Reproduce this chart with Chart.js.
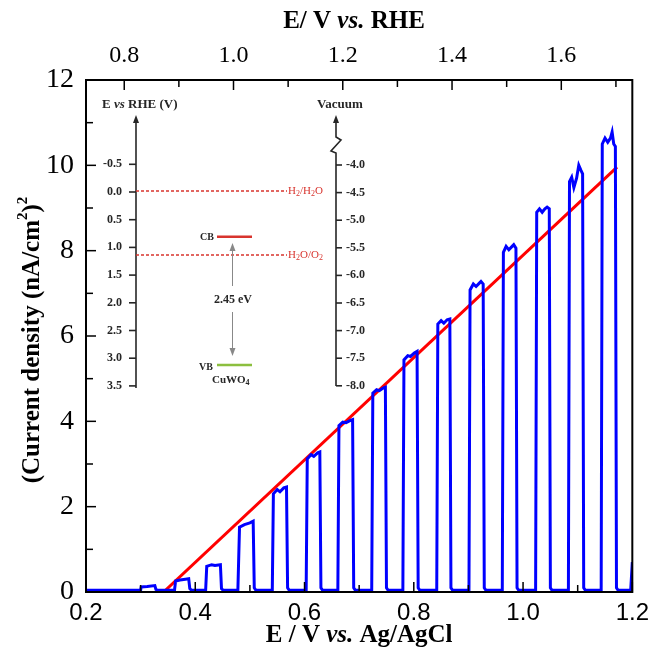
<!DOCTYPE html>
<html>
<head>
<meta charset="utf-8">
<script src="https://cdn.jsdelivr.net/npm/chart.js@4.4.0/dist/chart.umd.min.js"></script>
<style>
  html, body { margin: 0; padding: 0; background: #fff; }
  #chart { display: block; }
</style>
</head>
<body>
<canvas id="chart" width="656" height="659"></canvas>
<script>
"use strict";
// chopped-light photocurrent (squared)
const blueX = [
    0.200, 0.300,
    0.301, 0.312, 0.326, 0.328, 0.331,
    0.362, 0.364, 0.372, 0.382, 0.388, 0.390, 0.393,
    0.419, 0.421, 0.430, 0.436, 0.446, 0.448, 0.451,
    0.478, 0.481, 0.490, 0.500, 0.506, 0.508, 0.511,
    0.541, 0.543, 0.550, 0.555, 0.562, 0.567, 0.569, 0.572,
    0.603, 0.605, 0.612, 0.617, 0.624, 0.628, 0.630, 0.633,
    0.661, 0.663, 0.670, 0.676, 0.684, 0.688, 0.690, 0.693,
    0.723, 0.725, 0.732, 0.737, 0.744, 0.748, 0.750, 0.753,
    0.780, 0.782, 0.789, 0.794, 0.801, 0.806, 0.808, 0.811,
    0.842, 0.844, 0.850, 0.855, 0.861, 0.866, 0.868, 0.871,
    0.901, 0.903, 0.909, 0.914, 0.920, 0.923, 0.927, 0.929, 0.932,
    0.962, 0.964, 0.969, 0.974, 0.980, 0.983, 0.987, 0.989, 0.992,
    1.023, 1.025, 1.030, 1.035, 1.040, 1.044, 1.048, 1.050, 1.053,
    1.083, 1.085, 1.089, 1.093, 1.098, 1.102, 1.106, 1.109, 1.111, 1.114,
    1.143, 1.145, 1.150, 1.155, 1.160, 1.163, 1.166, 1.169, 1.171, 1.174,
    1.197, 1.200
];
const blueY = [
    0.04, 0.04,
    0.12, 0.13, 0.15, 0.06, 0.04,
    0.04, 0.26, 0.28, 0.30, 0.31, 0.08, 0.04,
    0.04, 0.60, 0.64, 0.62, 0.64, 0.08, 0.04,
    0.04, 1.52, 1.58, 1.62, 1.66, 0.10, 0.04,
    0.04, 2.30, 2.40, 2.35, 2.44, 2.46, 0.10, 0.04,
    0.04, 3.12, 3.22, 3.18, 3.26, 3.28, 0.10, 0.04,
    0.04, 3.90, 3.98, 3.97, 4.02, 4.04, 0.10, 0.04,
    0.04, 4.66, 4.74, 4.72, 4.78, 4.80, 0.10, 0.04,
    0.04, 5.44, 5.54, 5.52, 5.60, 5.64, 0.10, 0.04,
    0.04, 6.28, 6.36, 6.30, 6.38, 6.40, 0.10, 0.04,
    0.04, 7.08, 7.22, 7.16, 7.24, 7.28, 7.22, 0.10, 0.04,
    0.04, 7.96, 8.10, 8.02, 8.10, 8.14, 8.06, 0.10, 0.04,
    0.04, 8.90, 8.98, 8.90, 8.98, 9.02, 8.98, 0.10, 0.04,
    0.04, 9.62, 9.72, 9.48, 9.70, 10.00, 9.88, 9.80, 0.10, 0.04,
    0.04, 10.50, 10.64, 10.54, 10.64, 10.78, 10.50, 10.44, 0.10, 0.04,
    0.04, 0.70
];
// linear fit (red)
const fitX = [0.342, 1.172];
const fitY = [0.0, 9.96];

// axis ticks
const bottomTicks = [0.2, 0.4, 0.6, 0.8, 1.0, 1.2];
const bottomMinor = [0.3, 0.5, 0.7, 0.9, 1.1];
const leftTicks = [0, 2, 4, 6, 8, 10, 12];
const leftMinor = [1, 3, 5, 7, 9, 11];
const topTicks = [0.8, 1.0, 1.2, 1.4, 1.6];
const topMinor = [0.9, 1.1, 1.3, 1.5, 1.7];

// inset band diagram labels
const rheLabels = ["-0.5", "0.0", "0.5", "1.0", "1.5", "2.0", "2.5", "3.0", "3.5"];
const vacLabels = ["-4.0", "-4.5", "-5.0", "-5.5", "-6.0", "-6.5", "-7.0", "-7.5", "-8.0"];

const SERIF = '"Liberation Serif", "Times New Roman", serif';
const SANS = '"Liberation Sans", Arial, sans-serif';

function drawRuns(ctx, x, y, parts, align) {
    let w = 0;
    parts.forEach(p => { ctx.font = p[1]; w += ctx.measureText(p[0]).width; });
    let cx = align === "center" ? x - w / 2 : align === "right" ? x - w : x;
    ctx.textAlign = "left";
    parts.forEach(p => {
        ctx.font = p[1];
        ctx.fillText(p[0], cx, y + (p[2] || 0));
        cx += ctx.measureText(p[0]).width;
    });
}

function arrowHead(ctx, x, y, dir) {
    ctx.beginPath();
    ctx.moveTo(x, y);
    ctx.lineTo(x - 3, y - dir * 8);
    ctx.lineTo(x + 3, y - dir * 8);
    ctx.closePath();
    ctx.fill();
}

function drawInset(ctx) {
    ctx.save();
    const dark = "#262626";
    const red = "#d8342e";
    ctx.textBaseline = "middle";
    ctx.fillStyle = dark;
    ctx.strokeStyle = dark;

    drawRuns(ctx, 102, 105, [["E ", "bold 13px " + SERIF], ["vs", "bold italic 13px " + SERIF], [" RHE (V)", "bold 13px " + SERIF]], "left");
    drawRuns(ctx, 340, 105, [["Vacuum", "bold 13px " + SERIF]], "center");

    // left energy axis
    ctx.lineWidth = 1.6;
    ctx.beginPath();
    ctx.moveTo(136, 388);
    ctx.lineTo(136, 122);
    ctx.stroke();
    arrowHead(ctx, 136, 115, -1);
    ctx.font = "bold 12px " + SERIF;
    ctx.textAlign = "right";
    rheLabels.forEach((t, i) => {
        const y = 164.3 + i * 27.7;
        ctx.beginPath();
        ctx.moveTo(129, y);
        ctx.lineTo(136, y);
        ctx.stroke();
        ctx.fillText(t, 122, y);
    });

    // right (vacuum) axis with break
    ctx.beginPath();
    ctx.moveTo(336, 122);
    ctx.lineTo(336, 137);
    ctx.lineTo(341, 140);
    ctx.lineTo(331, 151);
    ctx.lineTo(336, 153);
    ctx.lineTo(336, 386);
    ctx.stroke();
    arrowHead(ctx, 336, 115, -1);
    ctx.textAlign = "left";
    vacLabels.forEach((t, i) => {
        const y = 165 + i * 27.6;
        ctx.beginPath();
        ctx.moveTo(336, y);
        ctx.lineTo(342, y);
        ctx.stroke();
        ctx.fillText(t, 346, y);
    });

    // redox levels
    ctx.strokeStyle = red;
    ctx.fillStyle = red;
    ctx.lineWidth = 1.3;
    ctx.setLineDash([3, 2]);
    [191, 255].forEach(y => {
        ctx.beginPath();
        ctx.moveTo(136, y);
        ctx.lineTo(287, y);
        ctx.stroke();
    });
    ctx.setLineDash([]);
    const f = "11px " + SERIF, fs = "8px " + SERIF;
    drawRuns(ctx, 288, 191, [["H", f], ["2", fs, 3], ["/H", f], ["2", fs, 3], ["O", f]], "left");
    drawRuns(ctx, 288, 255, [["H", f], ["2", fs, 3], ["O/O", f], ["2", fs, 3]], "left");

    // band edges
    ctx.lineWidth = 2.5;
    ctx.beginPath();
    ctx.moveTo(217, 236.7);
    ctx.lineTo(252, 236.7);
    ctx.stroke();
    ctx.strokeStyle = "#8cbf3f";
    ctx.beginPath();
    ctx.moveTo(217, 365);
    ctx.lineTo(252, 365);
    ctx.stroke();

    ctx.fillStyle = dark;
    drawRuns(ctx, 214, 237, [["CB", "bold 10px " + SERIF]], "right");
    drawRuns(ctx, 213, 367, [["VB", "bold 10px " + SERIF]], "right");
    drawRuns(ctx, 212, 380, [["CuWO", "bold 11px " + SERIF], ["4", "bold 8px " + SERIF, 3]], "left");

    // band gap arrow
    ctx.strokeStyle = "#888";
    ctx.fillStyle = "#888";
    ctx.lineWidth = 1;
    ctx.beginPath();
    ctx.moveTo(232.5, 249);
    ctx.lineTo(232.5, 286);
    ctx.moveTo(232.5, 312);
    ctx.lineTo(232.5, 350);
    ctx.stroke();
    arrowHead(ctx, 232.5, 243, -1);
    arrowHead(ctx, 232.5, 356, 1);
    ctx.fillStyle = dark;
    drawRuns(ctx, 233, 300, [["2.45 eV", "bold 12px " + SERIF]], "center");
    ctx.restore();
}

const decorations = {
    id: "decorations",
    afterDraw(chart) {
        const ctx = chart.ctx;
        const a = chart.chartArea;
        const sx = chart.scales.x, sy = chart.scales.y, st = chart.scales.x2;
        ctx.save();
        ctx.strokeStyle = "#000";
        ctx.lineWidth = 2;
        ctx.strokeRect(a.left, a.top, a.right - a.left, a.bottom - a.top);

        // inward ticks
        ctx.lineWidth = 1.5;
        const tick = (x1, y1, x2, y2) => {
            ctx.beginPath();
            ctx.moveTo(x1, y1);
            ctx.lineTo(x2, y2);
            ctx.stroke();
        };
        bottomTicks.forEach(v => { const x = sx.getPixelForValue(v); tick(x, a.bottom, x, a.bottom - 10); });
        bottomMinor.forEach(v => { const x = sx.getPixelForValue(v); tick(x, a.bottom, x, a.bottom - 7); });
        leftTicks.forEach(v => { const y = sy.getPixelForValue(v); tick(a.left, y, a.left + 10, y); });
        leftMinor.forEach(v => { const y = sy.getPixelForValue(v); tick(a.left, y, a.left + 7, y); });
        topTicks.forEach(v => { const x = st.getPixelForValue(v); tick(x, a.top, x, a.top + 10); });
        topMinor.forEach(v => { const x = st.getPixelForValue(v); if (x < a.right - 2) tick(x, a.top, x, a.top + 7); });

        // axis titles
        ctx.fillStyle = "#000";
        ctx.textBaseline = "middle";
        const b = "bold 25px " + SERIF, bi = "bold italic 25px " + SERIF;
        drawRuns(ctx, 354, 22, [["E/ V ", b], ["vs.", bi], [" RHE", b]], "center");
        drawRuns(ctx, (a.left + a.right) / 2, 636, [["E / V ", b], ["vs.", bi], [" Ag/AgCl", b]], "center");

        ctx.translate(33, 340);
        ctx.rotate(-Math.PI / 2);
        const sup = "bold 15px " + SERIF;
        drawRuns(ctx, 0, 0, [["(Current density (nA/cm", b], ["2", sup, -10], [")", b], ["2", sup, -10]], "center");
        ctx.restore();

        drawInset(ctx);
    }
};

new Chart("chart", {
    type: "scatter",
    data: {
        datasets: [
            {
                label: "photocurrent",
                data: blueX.map((x, i) => ({ x: x, y: blueY[i] })),
                showLine: true,
                borderColor: "#0000ff",
                borderWidth: 3,
                pointRadius: 0,
                tension: 0,
            },
            {
                label: "fit",
                data: fitX.map((x, i) => ({ x: x, y: fitY[i] })),
                showLine: true,
                borderColor: "#ff0000",
                borderWidth: 3,
                pointRadius: 0,
            },
        ],
    },
    options: {
        responsive: false,
        animation: false,
        layout: { padding: { right: 19, left: 0, top: 0, bottom: 0 } },
        plugins: { legend: { display: false }, tooltip: { enabled: false } },
        scales: {
            x: {
                type: "linear",
                position: "bottom",
                min: 0.2,
                max: 1.2,
                afterBuildTicks: s => { s.ticks = bottomTicks.map(v => ({ value: v })); },
                afterFit: s => { s.height = 67; },
                grid: { display: false, drawTicks: false },
                border: { display: false },
                ticks: {
                    font: { family: SANS, size: 24 },
                    color: "#000",
                    padding: 7,
                    maxRotation: 0,
                    autoSkip: false,
                    callback: v => Number(v).toFixed(1),
                },
            },
            x2: {
                type: "linear",
                position: "top",
                min: 0.73,
                max: 1.73,
                afterBuildTicks: s => { s.ticks = topTicks.map(v => ({ value: v })); },
                afterFit: s => { s.height = 80; },
                grid: { display: false, drawTicks: false },
                border: { display: false },
                ticks: {
                    font: { family: SERIF, size: 24 },
                    color: "#000",
                    padding: 10,
                    maxRotation: 0,
                    autoSkip: false,
                    callback: v => Number(v).toFixed(1),
                },
            },
            y: {
                type: "linear",
                position: "left",
                min: 0,
                max: 12,
                afterBuildTicks: s => { s.ticks = leftTicks.map(v => ({ value: v })); },
                afterFit: s => { s.width = 86; },
                grid: { display: false, drawTicks: false },
                border: { display: false },
                ticks: {
                    font: { family: SERIF, size: 28 },
                    color: "#000",
                    padding: 12,
                    autoSkip: false,
                },
            },
        },
    },
    plugins: [decorations],
});
</script>
</body>
</html>
